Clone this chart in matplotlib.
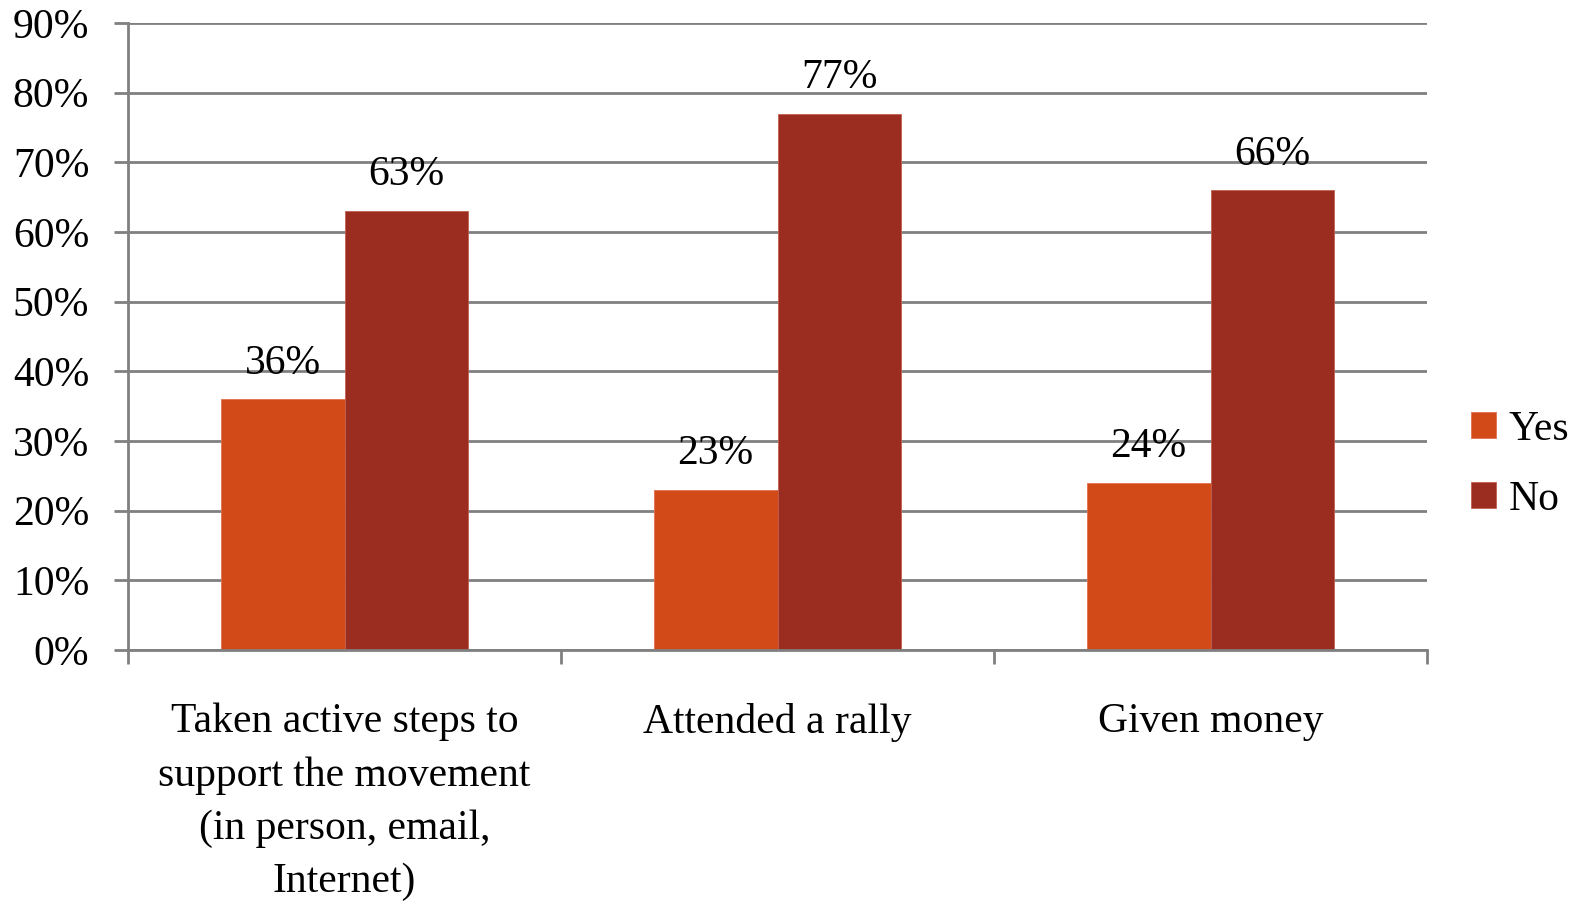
import numpy as np
import matplotlib.pyplot as plt
from matplotlib.ticker import MultipleLocator, PercentFormatter

categories = ["Taken active steps to\nsupport the movement\n(in person, email,\nInternet)",
              "Attended a rally", "Given money"]
yes_vals = [36, 23, 24]
no_vals = [63, 77, 66]
series = ["Yes", "No"]
colors = ["#D24A17", "#9B2D20"]

plt.rcParams["font.family"] = ["Liberation Serif", "DejaVu Serif"]
FS = 30

fig = plt.figure(figsize=(15.73, 9.08), dpi=100)
ax = fig.add_axes([0.0814, 0.2841, 0.8258, 0.6906])

x = np.arange(len(categories))
w = 0.286
grid_c = "#808080"

ax.set_axisbelow(True)
ax.yaxis.grid(True, color=grid_c, linewidth=2)
bars_yes = ax.bar(x - w / 2, yes_vals, w, color=colors[0], label=series[0],
                  edgecolor="#E07050", linewidth=0.6)
bars_no = ax.bar(x + w / 2, no_vals, w, color=colors[1], label=series[1],
                 edgecolor="#C06050", linewidth=0.6)

# value labels above each bar
for bars, vals in ((bars_yes, yes_vals), (bars_no, no_vals)):
    for b, v in zip(bars, vals):
        ax.annotate(f"{v}%", (b.get_x() + b.get_width() / 2, v),
                    xytext=(0, 12), textcoords="offset points",
                    ha="center", va="bottom", fontsize=FS)

ax.set_ylim(0, 90)
ax.set_xlim(-0.5, 2.5)
ax.yaxis.set_major_locator(MultipleLocator(10))
ax.yaxis.set_major_formatter(PercentFormatter(decimals=0))

ax.set_xticks(x)
ax.set_xticklabels(categories, fontsize=FS, linespacing=1.5)
ax.set_xticks([-0.5, 0.5, 1.5, 2.5], minor=True)
ax.tick_params(axis="x", which="major", length=0, pad=38)
ax.tick_params(axis="x", which="minor", length=10, width=2, color=grid_c)
ax.tick_params(axis="y", length=10, width=2, color=grid_c, labelsize=FS, pad=18)

for s in ("top", "right"):
    ax.spines[s].set_visible(False)
for s in ("left", "bottom"):
    ax.spines[s].set_color(grid_c)
    ax.spines[s].set_linewidth(2)

ax.legend(loc="center left", bbox_to_anchor=(1.034, 0.296), frameon=False,
          fontsize=FS, handlelength=0.6, handleheight=0.6, handletextpad=0.3,
          labelspacing=0.75, borderaxespad=0, borderpad=0)

fig.savefig("out.png", dpi=100)
